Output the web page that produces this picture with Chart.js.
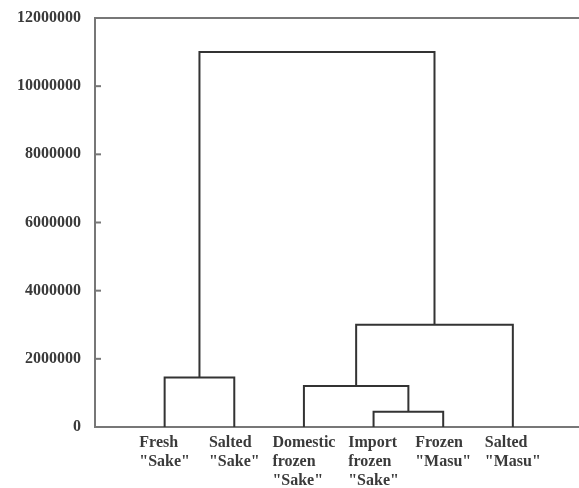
<!DOCTYPE html>
<html>
<head>
<meta charset="utf-8">
<script src="https://cdn.jsdelivr.net/npm/chart.js@4.4.0/dist/chart.umd.min.js"></script>
<style>
  html, body { margin: 0; padding: 0; background: #fff; }
  #wrap { width: 579px; height: 488px; }
</style>
</head>
<body>
<div id="wrap"><canvas id="dendro"></canvas></div>
<script>
// leaves, left to right
const leafNames = [
    ['Fresh', '"Sake"'],
    ['Salted', '"Sake"'],
    ['Domestic', 'frozen', '"Sake"'],
    ['Import', 'frozen', '"Sake"'],
    ['Frozen', '"Masu"'],
    ['Salted', '"Masu"']
];
// merges: nodes 0-5 are leaves, each merge makes node 6, 7, ...
const mergeA = [3, 0, 2, 8, 7];
const mergeB = [4, 1, 6, 5, 9];
const mergeHeight = [450000, 1450000, 1200000, 3000000, 11000000];
const yTicks = [0, 2000000, 4000000, 6000000, 8000000, 10000000, 12000000];

const labelFont = 'bold 16px "Liberation Serif", "Times New Roman", serif';
const lineColor = '#333';
const axisColor = '#777';
const textColor = '#3a3a3a';

// node positions
const nodeX = leafNames.map((n, i) => i + 1);
const nodeH = leafNames.map(() => 0);
const datasets = [];
for (let m = 0; m < mergeA.length; m++) {
    const a = mergeA[m], b = mergeB[m], h = mergeHeight[m];
    datasets.push({
        data: [
            { x: nodeX[a], y: nodeH[a] },
            { x: nodeX[a], y: h },
            { x: nodeX[b], y: h },
            { x: nodeX[b], y: nodeH[b] }
        ],
        showLine: true,
        borderColor: lineColor,
        borderWidth: 2,
        pointRadius: 0,
        clip: false
    });
    nodeX.push((nodeX[a] + nodeX[b]) / 2);
    nodeH.push(h);
}

const framePlugin = {
    id: 'frame',
    afterDraw(chart) {
        const ctx = chart.ctx;
        const area = chart.chartArea;
        const xs = chart.scales.x, ys = chart.scales.y;
        ctx.save();
        ctx.strokeStyle = axisColor;
        ctx.lineWidth = 2;
        // top border
        ctx.beginPath();
        ctx.moveTo(area.left, area.top);
        ctx.lineTo(area.right, area.top);
        ctx.stroke();
        // inward tick marks
        yTicks.forEach(v => {
            const py = ys.getPixelForValue(v);
            ctx.beginPath();
            ctx.moveTo(area.left, py);
            ctx.lineTo(area.left + 6, py);
            ctx.stroke();
        });
        // leaf labels, left aligned in a block centred on the leaf
        ctx.font = labelFont;
        ctx.fillStyle = textColor;
        ctx.textAlign = 'left';
        ctx.textBaseline = 'middle';
        leafNames.forEach((lines, i) => {
            const px = xs.getPixelForValue(i + 1);
            const w = Math.max(...lines.map(s => ctx.measureText(s).width));
            lines.forEach((s, k) => {
                ctx.fillText(s, px - w / 2, area.bottom + 16 + k * 19);
            });
        });
        ctx.restore();
    }
};

new Chart(document.getElementById('dendro').getContext('2d'), {
    type: 'scatter',
    data: { datasets: datasets },
    options: {
        responsive: true,
        maintainAspectRatio: false,
        animation: false,
        layout: { padding: { top: 18, right: 0, bottom: 0, left: 0 } },
        plugins: { legend: { display: false }, tooltip: { enabled: false } },
        scales: {
            x: {
                type: 'linear',
                min: 0,
                max: 6.95,
                grid: { display: false },
                border: { display: true, color: axisColor, width: 2 },
                ticks: { display: false },
                afterFit(scale) { scale.height = 61; }
            },
            y: {
                min: 0,
                max: 12000000,
                grid: { display: false, drawTicks: false },
                border: { display: true, color: axisColor, width: 2 },
                afterBuildTicks(scale) { scale.ticks = yTicks.map(v => ({ value: v })); },
                afterFit(scale) {
                    scale.width = 95;
                    scale.paddingTop = 0;
                    scale.paddingBottom = 0;
                },
                ticks: {
                    padding: 14,
                    color: textColor,
                    font: { family: '"Liberation Serif", "Times New Roman", serif', size: 16, weight: 'bold' },
                    callback: v => String(v)
                }
            }
        }
    },
    plugins: [framePlugin]
});
</script>
</body>
</html>
